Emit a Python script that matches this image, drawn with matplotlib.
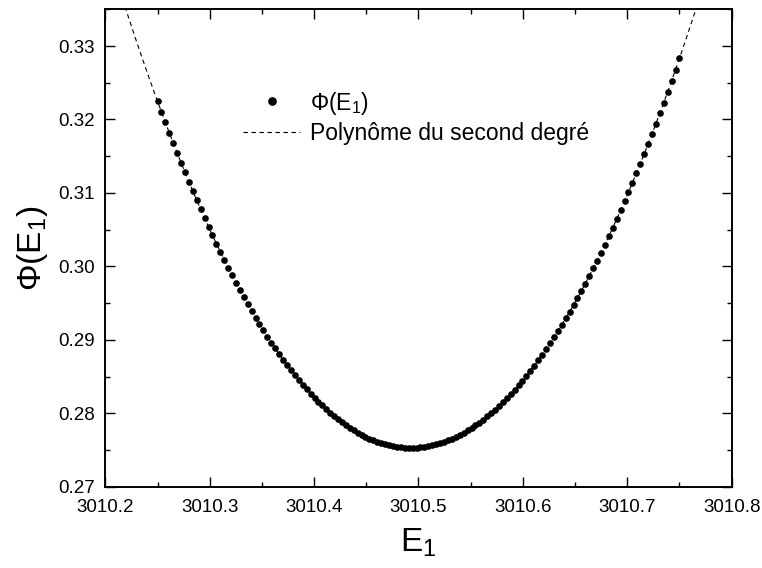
import numpy as np
import matplotlib
matplotlib.use("Agg")
import matplotlib.pyplot as plt
from matplotlib.ticker import MultipleLocator, FormatStrFormatter

plt.rcParams['font.family'] = ['Liberation Sans', 'DejaVu Sans']
plt.rcParams['mathtext.fontset'] = 'custom'
plt.rcParams['mathtext.rm'] = 'Liberation Sans'
plt.rcParams['mathtext.it'] = 'Liberation Sans:italic'
plt.rcParams['mathtext.bf'] = 'Liberation Sans:bold'

# ---- data ----
E1 = [
    3010.2500, 3010.2538, 3010.2575, 3010.2613, 3010.2650, 3010.2688, 3010.2726, 3010.2763,
    3010.2801, 3010.2838, 3010.2876, 3010.2914, 3010.2951, 3010.2989, 3010.3026, 3010.3064,
    3010.3102, 3010.3139, 3010.3177, 3010.3214, 3010.3252, 3010.3289, 3010.3327, 3010.3365,
    3010.3402, 3010.3440, 3010.3477, 3010.3515, 3010.3553, 3010.3590, 3010.3628, 3010.3665,
    3010.3703, 3010.3741, 3010.3778, 3010.3816, 3010.3853, 3010.3891, 3010.3929, 3010.3966,
    3010.4004, 3010.4041, 3010.4079, 3010.4117, 3010.4154, 3010.4192, 3010.4229, 3010.4267,
    3010.4305, 3010.4342, 3010.4380, 3010.4417, 3010.4455, 3010.4492, 3010.4530, 3010.4568,
    3010.4605, 3010.4643, 3010.4680, 3010.4718, 3010.4756, 3010.4793, 3010.4831, 3010.4868,
    3010.4906, 3010.4944, 3010.4981, 3010.5019, 3010.5056, 3010.5094, 3010.5132, 3010.5169,
    3010.5207, 3010.5244, 3010.5282, 3010.5320, 3010.5357, 3010.5395, 3010.5432, 3010.5470,
    3010.5508, 3010.5545, 3010.5583, 3010.5620, 3010.5658, 3010.5695, 3010.5733, 3010.5771,
    3010.5808, 3010.5846, 3010.5883, 3010.5921, 3010.5959, 3010.5996, 3010.6034, 3010.6071,
    3010.6109, 3010.6147, 3010.6184, 3010.6222, 3010.6259, 3010.6297, 3010.6335, 3010.6372,
    3010.6410, 3010.6447, 3010.6485, 3010.6523, 3010.6560, 3010.6598, 3010.6635, 3010.6673,
    3010.6711, 3010.6748, 3010.6786, 3010.6823, 3010.6861, 3010.6898, 3010.6936, 3010.6974,
    3010.7011, 3010.7049, 3010.7086, 3010.7124, 3010.7162, 3010.7199, 3010.7237, 3010.7274,
    3010.7312, 3010.7350, 3010.7387, 3010.7425, 3010.7462, 3010.7500,
]

phi = [
    0.32248, 0.32103, 0.31960, 0.31820, 0.31682, 0.31546, 0.31412, 0.31280,
    0.31151, 0.31024, 0.30900, 0.30777, 0.30657, 0.30539, 0.30424, 0.30310,
    0.30199, 0.30090, 0.29984, 0.29880, 0.29778, 0.29678, 0.29580, 0.29485,
    0.29392, 0.29302, 0.29213, 0.29127, 0.29043, 0.28961, 0.28882, 0.28805,
    0.28730, 0.28657, 0.28587, 0.28519, 0.28453, 0.28390, 0.28328, 0.28269,
    0.28213, 0.28158, 0.28106, 0.28056, 0.28008, 0.27963, 0.27920, 0.27879,
    0.27840, 0.27804, 0.27770, 0.27738, 0.27709, 0.27681, 0.27656, 0.27633,
    0.27613, 0.27595, 0.27579, 0.27565, 0.27554, 0.27544, 0.27537, 0.27533,
    0.27530, 0.27530, 0.27532, 0.27537, 0.27543, 0.27552, 0.27564, 0.27577,
    0.27593, 0.27611, 0.27631, 0.27653, 0.27678, 0.27705, 0.27735, 0.27766,
    0.27800, 0.27836, 0.27874, 0.27915, 0.27958, 0.28003, 0.28050, 0.28100,
    0.28152, 0.28206, 0.28263, 0.28322, 0.28383, 0.28446, 0.28511, 0.28579,
    0.28649, 0.28721, 0.28796, 0.28873, 0.28952, 0.29033, 0.29117, 0.29203,
    0.29291, 0.29382, 0.29474, 0.29569, 0.29666, 0.29766, 0.29868, 0.29972,
    0.30078, 0.30186, 0.30297, 0.30410, 0.30526, 0.30643, 0.30763, 0.30885,
    0.31010, 0.31136, 0.31265, 0.31396, 0.31530, 0.31666, 0.31804, 0.31944,
    0.32086, 0.32231, 0.32378, 0.32527, 0.32679, 0.32833,
]

x_ticks = [3010.2, 3010.3, 3010.4, 3010.5, 3010.6, 3010.7, 3010.8]
y_ticks = [0.27, 0.28, 0.29, 0.30, 0.31, 0.32, 0.33]
label_points = r'$\Phi(\mathrm{E}_1)$'
label_fit = 'Polynôme du second degré'
x_label = r'$\mathrm{E}_1$'
y_label = r'$\Phi(\mathrm{E}_1)$'

# ---- second-degree polynomial fit of the points ----
coef = np.polyfit(E1, phi, 2)
E_fit = np.linspace(x_ticks[0], x_ticks[-1], 600)
phi_fit = np.polyval(coef, E_fit)

fig = plt.figure(figsize=(7.62, 5.68), dpi=100)
ax = fig.add_axes([0.1382, 0.1431, 0.8220, 0.8405])

ax.plot(E1, phi, linestyle='none', marker='o', markersize=4.8,
        markeredgewidth=0, color='black', label=label_points, zorder=3)
ax.plot(E_fit, phi_fit, color='black', linewidth=0.8,
        linestyle=(0, (4, 3.2)), label=label_fit, zorder=2)

ax.set_xlim(3010.2, 3010.8)
ax.set_ylim(0.27, 0.335)
ax.set_xticks(x_ticks)
ax.set_yticks(y_ticks)
ax.xaxis.set_major_formatter(FormatStrFormatter('%.1f'))
ax.yaxis.set_major_formatter(FormatStrFormatter('%.2f'))
ax.xaxis.set_minor_locator(MultipleLocator(0.05))
ax.yaxis.set_minor_locator(MultipleLocator(0.005))

ax.tick_params(which='both', direction='in', top=True, right=True,
               labelsize=13.5, colors='black')
ax.tick_params(which='major', length=7, width=1.0)
ax.tick_params(which='minor', length=3.6, width=1.0)
ax.tick_params(axis='x', which='major', pad=8.5)
ax.tick_params(axis='y', which='major', pad=7.5)
for sp in ax.spines.values():
    sp.set_linewidth(1.4)

ax.set_xlabel(x_label, fontsize=24, labelpad=8)
ax.set_ylabel(y_label, fontsize=24, labelpad=6)

leg = ax.legend(loc='upper left', bbox_to_anchor=(0.2201, 0.832),
                frameon=False, fontsize=16.5, borderpad=0, borderaxespad=0,
                handlelength=2.5, handletextpad=0.42, labelspacing=0.25,
                markerscale=1.3)

fig.savefig('out.png', dpi=100)
